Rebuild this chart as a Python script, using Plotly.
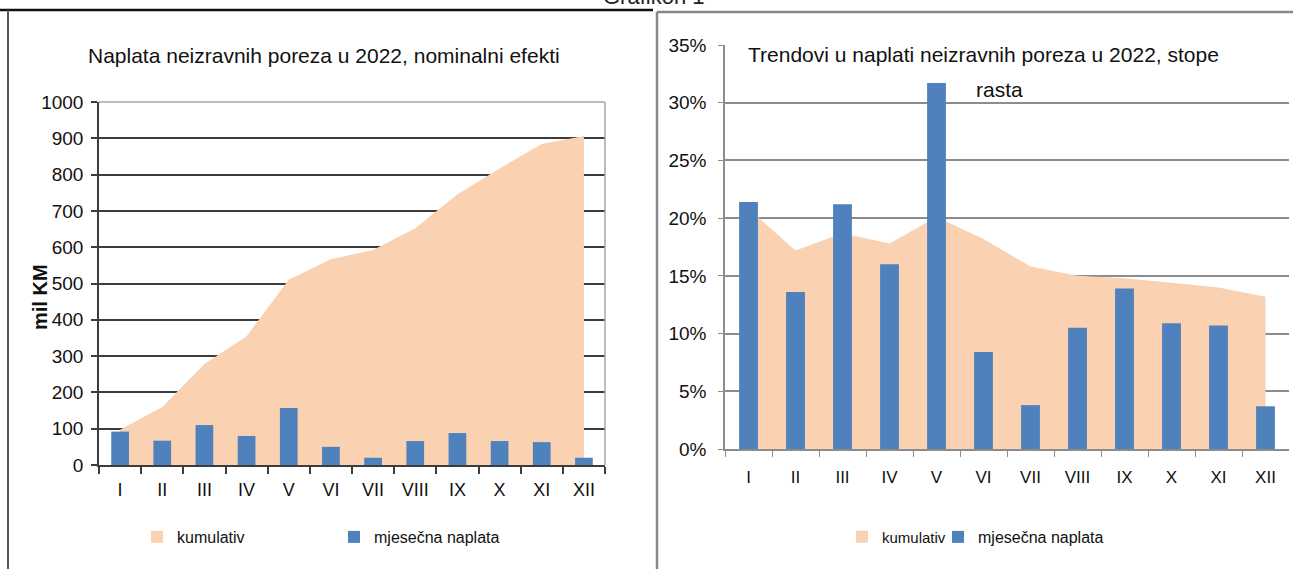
import plotly.graph_objects as go

# ---------------- data ----------------
months = ["I", "II", "III", "IV", "V", "VI", "VII", "VIII", "IX", "X", "XI", "XII"]

# left chart: mil KM
left_cumulative = [97, 160, 278, 355, 510, 567, 592, 652, 746, 817, 884, 906]
left_monthly = [92, 67, 110, 80, 157, 50, 20, 66, 88, 66, 63, 20]

# right chart: growth rates
right_cumulative = [0.208, 0.172, 0.187, 0.178, 0.201, 0.182, 0.158, 0.150, 0.148, 0.144, 0.140, 0.132]
right_monthly = [0.214, 0.136, 0.212, 0.160, 0.317, 0.084, 0.038, 0.105, 0.139, 0.109, 0.107, 0.037]

left_title = "Naplata neizravnih poreza u 2022, nominalni efekti"
right_title_1 = "Trendovi u naplati neizravnih poreza u 2022, stope"
right_title_2 = "rasta"
y_title = "mil KM"
page_title = "Grafikon 1"
name_cum = "kumulativ"
name_month = "mjesečna naplata"

# ---------------- style ----------------
W, H = 1293, 569
PEACH = "#FAD1B1"
BLUE = "#4F81BD"
FONT = "Liberation Sans, Arial, sans-serif"
DARK = "#3c3c3c"
GRAY = "#8c8c8c"
TXT = "#111111"


def px_x(p):
    return p / W


def px_y(p):
    return 1 - p / H


fig = go.Figure()

# ---- left chart ----
fig.add_trace(go.Scatter(x=months, y=left_cumulative, mode="none", fill="tozeroy",
                         fillcolor=PEACH, name=name_cum, showlegend=False,
                         legendgroup="lc", xaxis="x", yaxis="y", hoverinfo="skip"))
fig.add_trace(go.Bar(x=[months[0]], y=[0], marker=dict(color=PEACH, line=dict(width=0)),
                     name=name_cum, legendgroup="lc", legend="legend",
                     xaxis="x3", yaxis="y3", hoverinfo="skip"))
fig.add_trace(go.Bar(x=months, y=left_monthly, width=0.42,
                     marker=dict(color=BLUE, line=dict(width=0)),
                     name=name_month, legend="legend2", xaxis="x3", yaxis="y3"))

# ---- right chart ----
fig.add_trace(go.Scatter(x=months, y=right_cumulative, mode="none", fill="tozeroy",
                         fillcolor=PEACH, name=name_cum, showlegend=False,
                         legendgroup="rc", xaxis="x2", yaxis="y2", hoverinfo="skip"))
fig.add_trace(go.Bar(x=[months[0]], y=[0], marker=dict(color=PEACH, line=dict(width=0)),
                     name=name_cum, legendgroup="rc", legend="legend3",
                     xaxis="x4", yaxis="y4", hoverinfo="skip"))
fig.add_trace(go.Bar(x=months, y=right_monthly, width=0.4,
                     marker=dict(color=BLUE, line=dict(width=0)),
                     name=name_month, legend="legend4", xaxis="x4", yaxis="y4"))

left_xdom = [px_x(99), px_x(605)]
left_ydom = [px_y(465), px_y(102)]
right_xdom = [px_x(725), px_x(1289)]
right_ydom = [px_y(449), px_y(45)]

cat_axis = dict(type="category", categoryorder="array", categoryarray=months,
                range=[-0.5, 11.5], automargin=False)


def legend_at(xpx, size):
    return dict(orientation="h", x=px_x(xpx), y=px_y(537), xanchor="left",
                yanchor="middle", font=dict(family=FONT, size=size, color=TXT),
                bgcolor="rgba(0,0,0,0)", borderwidth=0)


fig.update_layout(
    width=W, height=H,
    margin=dict(l=0, r=0, t=0, b=0, pad=0, autoexpand=False),
    paper_bgcolor="white", plot_bgcolor="rgba(0,0,0,0)",
    showlegend=True,
    barmode="overlay",
    xaxis=dict(**cat_axis, domain=left_xdom, anchor="y", tickson="boundaries",
               ticks="outside", ticklen=7, tickwidth=1.5, tickcolor=DARK,
               showline=True, linecolor=DARK, linewidth=1.5, showgrid=False,
               tickfont=dict(family=FONT, size=18, color=TXT),
               ticklabelstandoff=8),
    yaxis=dict(domain=left_ydom, anchor="x", range=[0, 1000], dtick=100,
               ticks="outside", ticklen=6, tickwidth=1.5, tickcolor=DARK,
               showline=True, linecolor=DARK, linewidth=1.5, automargin=False,
               showgrid=True, gridcolor=DARK, gridwidth=2, zeroline=False,
               tickfont=dict(family=FONT, size=19, color=TXT),
               ticklabelstandoff=4),
    xaxis3=dict(**cat_axis, overlaying="x", anchor="y3", visible=False),
    yaxis3=dict(range=[0, 1000], overlaying="y", anchor="x3", visible=False,
                automargin=False),
    xaxis2=dict(**cat_axis, domain=right_xdom, anchor="y2", tickson="boundaries",
                ticks="outside", ticklen=6, tickwidth=1, tickcolor=GRAY,
                showline=True, linecolor=GRAY, linewidth=1.5, showgrid=False,
                tickfont=dict(family=FONT, size=17, color=TXT),
                ticklabelstandoff=12),
    yaxis2=dict(domain=right_ydom, anchor="x2", range=[0, 0.35], dtick=0.05,
                tickformat=".0%", ticks="outside", ticklen=5, tickwidth=1,
                tickcolor=GRAY, showline=True, linecolor=GRAY, linewidth=1.5,
                showgrid=True, gridcolor=GRAY, gridwidth=1.5, zeroline=False,
                automargin=False,
                tickfont=dict(family=FONT, size=19, color=TXT),
                ticklabelstandoff=8),
    xaxis4=dict(**cat_axis, overlaying="x2", anchor="y4", visible=False),
    yaxis4=dict(range=[0, 0.35], overlaying="y2", anchor="x4", visible=False,
                automargin=False),
    legend=legend_at(137, 16),
    legend2=legend_at(334, 16),
    legend3=legend_at(842, 15),
    legend4=legend_at(938, 16),
)

annotations = [
    dict(text=left_title, x=px_x(324), y=px_y(56), xanchor="center", yanchor="middle",
         font=dict(family=FONT, size=21, color=TXT)),
    dict(text=right_title_1, x=px_x(746), y=px_y(55), xanchor="left", yanchor="middle",
         font=dict(family=FONT, size=21, color=TXT)),
    dict(text=right_title_2, x=px_x(974), y=px_y(90), xanchor="left", yanchor="middle",
         font=dict(family=FONT, size=21, color=TXT)),
    dict(text="<b>" + y_title + "</b>", x=px_x(40), y=px_y(297), xanchor="center",
         yanchor="middle", textangle=-90, font=dict(family=FONT, size=20, color=TXT)),
    dict(text=page_title, x=px_x(654), y=px_y(-3), xanchor="center", yanchor="middle",
         font=dict(family=FONT, size=22, color="#222")),
]
for a in annotations:
    a.update(xref="paper", yref="paper", showarrow=False)
fig.update_layout(annotations=annotations)

shapes = [
    # left plot-area border (top, right)
    dict(type="line", x0=px_x(99), x1=px_x(605), y0=px_y(102), y1=px_y(102),
         line=dict(color="#a6a6a6", width=1.5), layer="above"),
    dict(type="line", x0=px_x(605), x1=px_x(605), y0=px_y(102), y1=px_y(465),
         line=dict(color="#a6a6a6", width=1.5), layer="above"),
    # panel borders
    dict(type="line", x0=0, x1=px_x(653), y0=px_y(10), y1=px_y(10),
         line=dict(color="#111", width=2.5)),
    dict(type="line", x0=px_x(8), x1=px_x(8), y0=px_y(10), y1=0,
         line=dict(color="#555", width=2)),
    dict(type="line", x0=px_x(657), x1=px_x(657), y0=px_y(12), y1=0,
         line=dict(color="#888", width=2.5)),
    dict(type="line", x0=px_x(657), x1=1, y0=px_y(12), y1=px_y(12),
         line=dict(color="#888", width=2.5)),
]
for s in shapes:
    s.update(xref="paper", yref="paper")
fig.update_layout(shapes=shapes)

fig.write_html("out.html", config={"displayModeBar": False},
               post_script="document.body.style.margin='0';document.body.style.overflow='hidden';")
